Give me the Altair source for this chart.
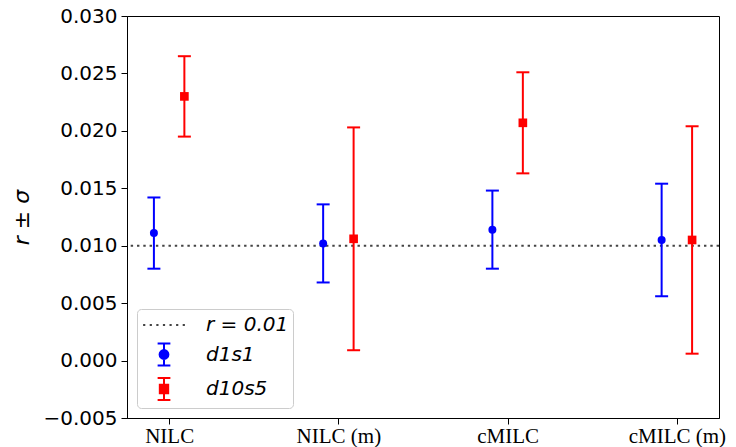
import altair as alt
import pandas as pd

# ---- data ----
methods = ["NILC", "NILC (m)", "cMILC", "cMILC (m)"]
method_x = [0, 1, 2, 3]                 # position of each method's d1s1 point
red_shift = 0.18                        # d10s5 drawn slightly to the right
tick_pos = [0.09, 1.09, 2.09, 3.09]     # category labels sit between the pair
d1s1_val = [0.0111, 0.0102, 0.0114, 0.0105]
d1s1_err = [0.0031, 0.0034, 0.0034, 0.0049]
d10s5_val = [0.0230, 0.0106, 0.0207, 0.0105]
d10s5_err = [0.0035, 0.0097, 0.0044, 0.0099]
y_ticks = [-0.005, 0.0, 0.005, 0.010, 0.015, 0.020, 0.025, 0.030]
r_ref = [0.01]
legend_names = ["r = 0.01", "d1s1", "d10s5"]

BLUE = "#0000ff"
RED = "#ff0000"
GREY = "#444444"

xscale = alt.Scale(domain=[-0.159, 3.339], nice=False, zero=False)
yscale = alt.Scale(domain=[-0.005, 0.030], nice=False, zero=False)

label_expr = "[" + ",".join("'%s'" % m for m in methods) + "][indexof([" + \
    ",".join(str(t) for t in tick_pos) + "], datum.value)]"

xaxis = alt.Axis(values=tick_pos, labelExpr=label_expr, title=None, grid=False,
                 labelFont="Liberation Serif", labelFontSize=21, labelPadding=1,
                 labelBaseline="top",
                 tickSize=6, labelColor="black", domainColor="black", tickColor="black")
yaxis = alt.Axis(values=y_ticks, format=".3f",
                 title="r ± σ", grid=False, labelFont="DejaVu Sans", labelFontSize=20,
                 labelPadding=4, tickSize=6, titleFont="DejaVu Sans", titleFontSize=22,
                 titleFontStyle="italic", titleFontWeight="normal", titlePadding=9,
                 labelColor="black", titleColor="black", domainColor="black",
                 tickColor="black")


def series_df(xs, vals, errs, shift):
    return pd.DataFrame({
        "x": [x + shift for x in xs],
        "val": vals,
        "lo": [v - e for v, e in zip(vals, errs)],
        "hi": [v + e for v, e in zip(vals, errs)],
    })


def series_layers(df, color, shape, size):
    base = alt.Chart(df)
    bar = base.mark_rule(color=color, strokeWidth=2).encode(
        x=alt.X("x:Q", scale=xscale, axis=xaxis),
        y=alt.Y("lo:Q", scale=yscale, axis=yaxis),
        y2="hi:Q",
    )
    caps = base.transform_fold(["lo", "hi"], as_=["end", "yv"]).mark_tick(
        color=color, orient="horizontal", size=13, thickness=2, opacity=1
    ).encode(
        x=alt.X("x:Q", scale=xscale),
        y=alt.Y("yv:Q", scale=yscale),
    )
    pts = base.mark_point(shape=shape, filled=True, size=size, color=color, opacity=1).encode(
        x=alt.X("x:Q", scale=xscale),
        y=alt.Y("val:Q", scale=yscale),
    )
    return [bar, caps, pts]


blue_df = series_df(method_x, d1s1_val, d1s1_err, 0.0)
red_df = series_df(method_x, d10s5_val, d10s5_err, red_shift)

ref_rule = alt.Chart(pd.DataFrame({"r": r_ref})).mark_rule(
    color=GREY, strokeWidth=2, strokeDash=[2.4, 3.9]
).encode(y=alt.Y("r:Q", scale=yscale, axis=yaxis))

# custom legend glyphs (unit = 11 px)
dots = "".join("M%.3f,0h0.2" % (-1.9 + i * 0.6) for i in range(7))
bar_caps = "M0,-1L0,1M-0.58,-1L0.58,-1M-0.58,1L0.58,1"
circle = "M-0.4,0A0.4,0.4 0 1,0 0.4,0A0.4,0.4 0 1,0 -0.4,0Z"
square = "M-0.38,-0.38H0.38V0.38H-0.38Z"
legend_shapes = [dots, bar_caps + circle, bar_caps + square]
legend_colors = [GREY, BLUE, RED]

legend_layer = alt.Chart(pd.DataFrame({"series": legend_names})).transform_filter(
    "false"
).mark_point(filled=False, size=484, strokeWidth=2, opacity=1).encode(
    x=alt.X("x0:Q", scale=xscale),
    y=alt.Y("y0:Q", scale=yscale),
    shape=alt.Shape("series:N", scale=alt.Scale(domain=legend_names, range=legend_shapes),
                    legend=alt.Legend(title=None)),
    stroke=alt.Stroke("series:N", scale=alt.Scale(domain=legend_names, range=legend_colors),
                      legend=alt.Legend(title=None)),
    fill=alt.Fill("series:N", scale=alt.Scale(domain=legend_names, range=legend_colors),
                  legend=alt.Legend(title=None)),
)

layers = [ref_rule] + series_layers(blue_df, BLUE, "circle", 64) + \
    series_layers(red_df, RED, "square", 75) + [legend_layer]

chart = alt.layer(*layers).properties(
    width=592, height=402,
    autosize=alt.AutoSizeParams(type="none"),
    padding={"left": 127, "top": 16, "right": 17, "bottom": 29},
).configure_view(
    stroke="black", strokeWidth=1
).configure_legend(
    orient="bottom-left", offset=10, padding=4, rowPadding=4.5,
    strokeColor="#cccccc", fillColor="rgba(255,255,255,0.8)", cornerRadius=4,
    labelFont="DejaVu Sans", labelFontSize=20, labelFontStyle="italic",
    labelColor="black", labelOffset=30, symbolOffset=11, symbolSize=484,
    symbolStrokeWidth=2, labelLimit=300,
)

chart.save("out.html", embed_options={"renderer": "svg", "actions": False})
